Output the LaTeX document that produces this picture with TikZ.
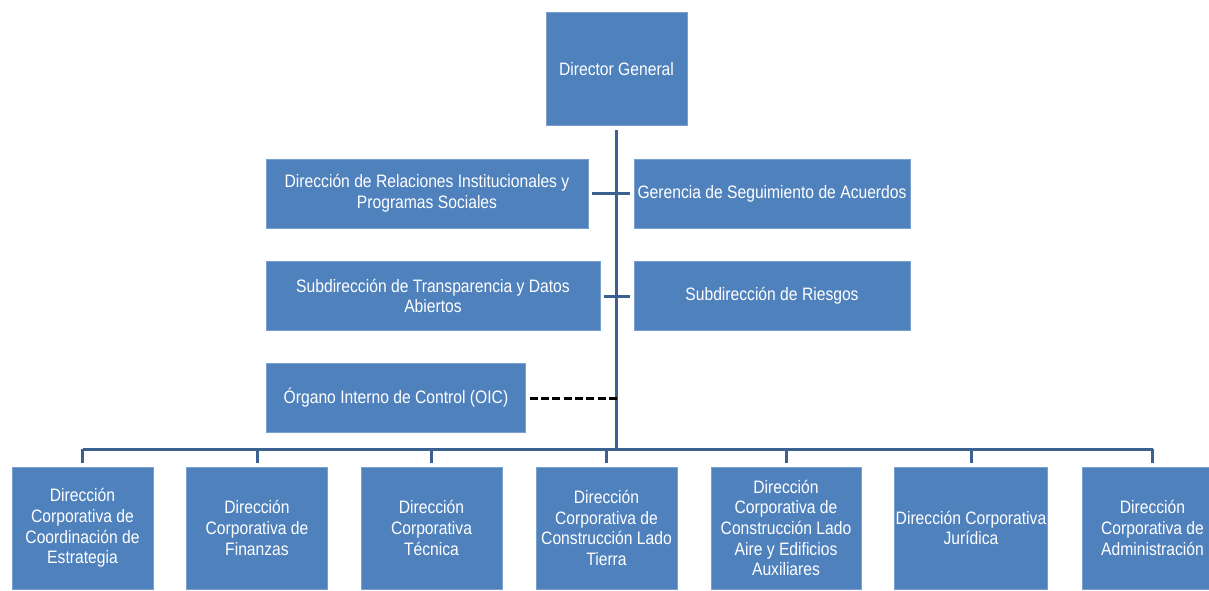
\documentclass[tikz,border=0pt]{standalone}
\usepackage{fontspec}
\setmainfont{Liberation Sans}[FakeStretch=0.87]
\usetikzlibrary{positioning}
\definecolor{boxblue}{HTML}{4F81BD}
\definecolor{linkblue}{HTML}{3C6190}

\begin{document}
\begin{tikzpicture}[
  x=0.75pt, y=-0.75pt,
  every node/.style={font=\fontsize{13.5}{15.5}\selectfont},
  unit/.style={fill=boxblue, draw=boxblue!75!white, line width=0.4pt, text=white,
               align=center, inner sep=1pt, outer sep=3pt},
  wide/.style={unit, minimum height=51.75pt},
  dept/.style={unit, minimum width=105.75pt, minimum height=91.5pt},
  link/.style={draw=linkblue, line width=2.25pt},
  oicline/.style={draw=black, line width=2.25pt, dash pattern=on 6pt off 2.5pt}
]
  \useasboundingbox (0,0) rectangle (1209,590);
  \clip (0,0) rectangle (1209,590);

  % top and staff units
  \node[unit, minimum width=105.75pt, minimum height=84.75pt] (dir) at (616.5,69) {Director General};
  \node[wide, minimum width=241.5pt] (rel) at (427,193.5) {Dirección de Relaciones Institucionales y\\Programas Sociales};
  \node[wide, minimum width=207pt] (ger) at (772,193.5) {Gerencia de Seguimiento de Acuerdos};
  \node[wide, minimum width=250.5pt] (trans) at (433,296) {Subdirección de Transparencia y Datos\\Abiertos};
  \node[wide, minimum width=207pt] (ries) at (772,296) {Subdirección de Riesgos};
  \node[wide, minimum width=194.25pt] (oic) at (396,398) {Órgano Interno de Control (OIC)};

  \coordinate (bus) at (616.5,449);

  % corporate directorates
  \foreach \i/\x/\w/\txt in {
      1/82.5/105.75pt/{Dirección\\Corporativa de\\Coordinación de\\Estrategia},
      2/257/105.75pt/{Dirección\\Corporativa de\\Finanzas},
      3/431.5/105.75pt/{Dirección\\Corporativa\\Técnica},
      4/606.5/105.75pt/{Dirección\\Corporativa de\\Construcción Lado\\Tierra},
      5/786/112.5pt/{Dirección\\Corporativa de\\Construcción Lado\\Aire y Edificios\\Auxiliares},
      6/971/114pt/{Dirección Corporativa\\Jurídica},
      7/1152.5/105.75pt/{Dirección\\Corporativa de\\Administración}} {
    \node[dept, minimum width=\w] (d\i) at (\x,528) {\txt};
    \draw[link] (d\i.north |- bus) -- (d\i.north);
  }

  % connectors
  \draw[link] (dir.south) -- (bus);
  \draw[link] (d1.north |- bus) -- (d7.north |- bus);
  \draw[link] (rel.east) -- (ger.west);
  \draw[link] (trans.east) -- (ries.west);
  \draw[oicline] (oic.east) -- (oic.east -| bus);
\end{tikzpicture}
\end{document}
